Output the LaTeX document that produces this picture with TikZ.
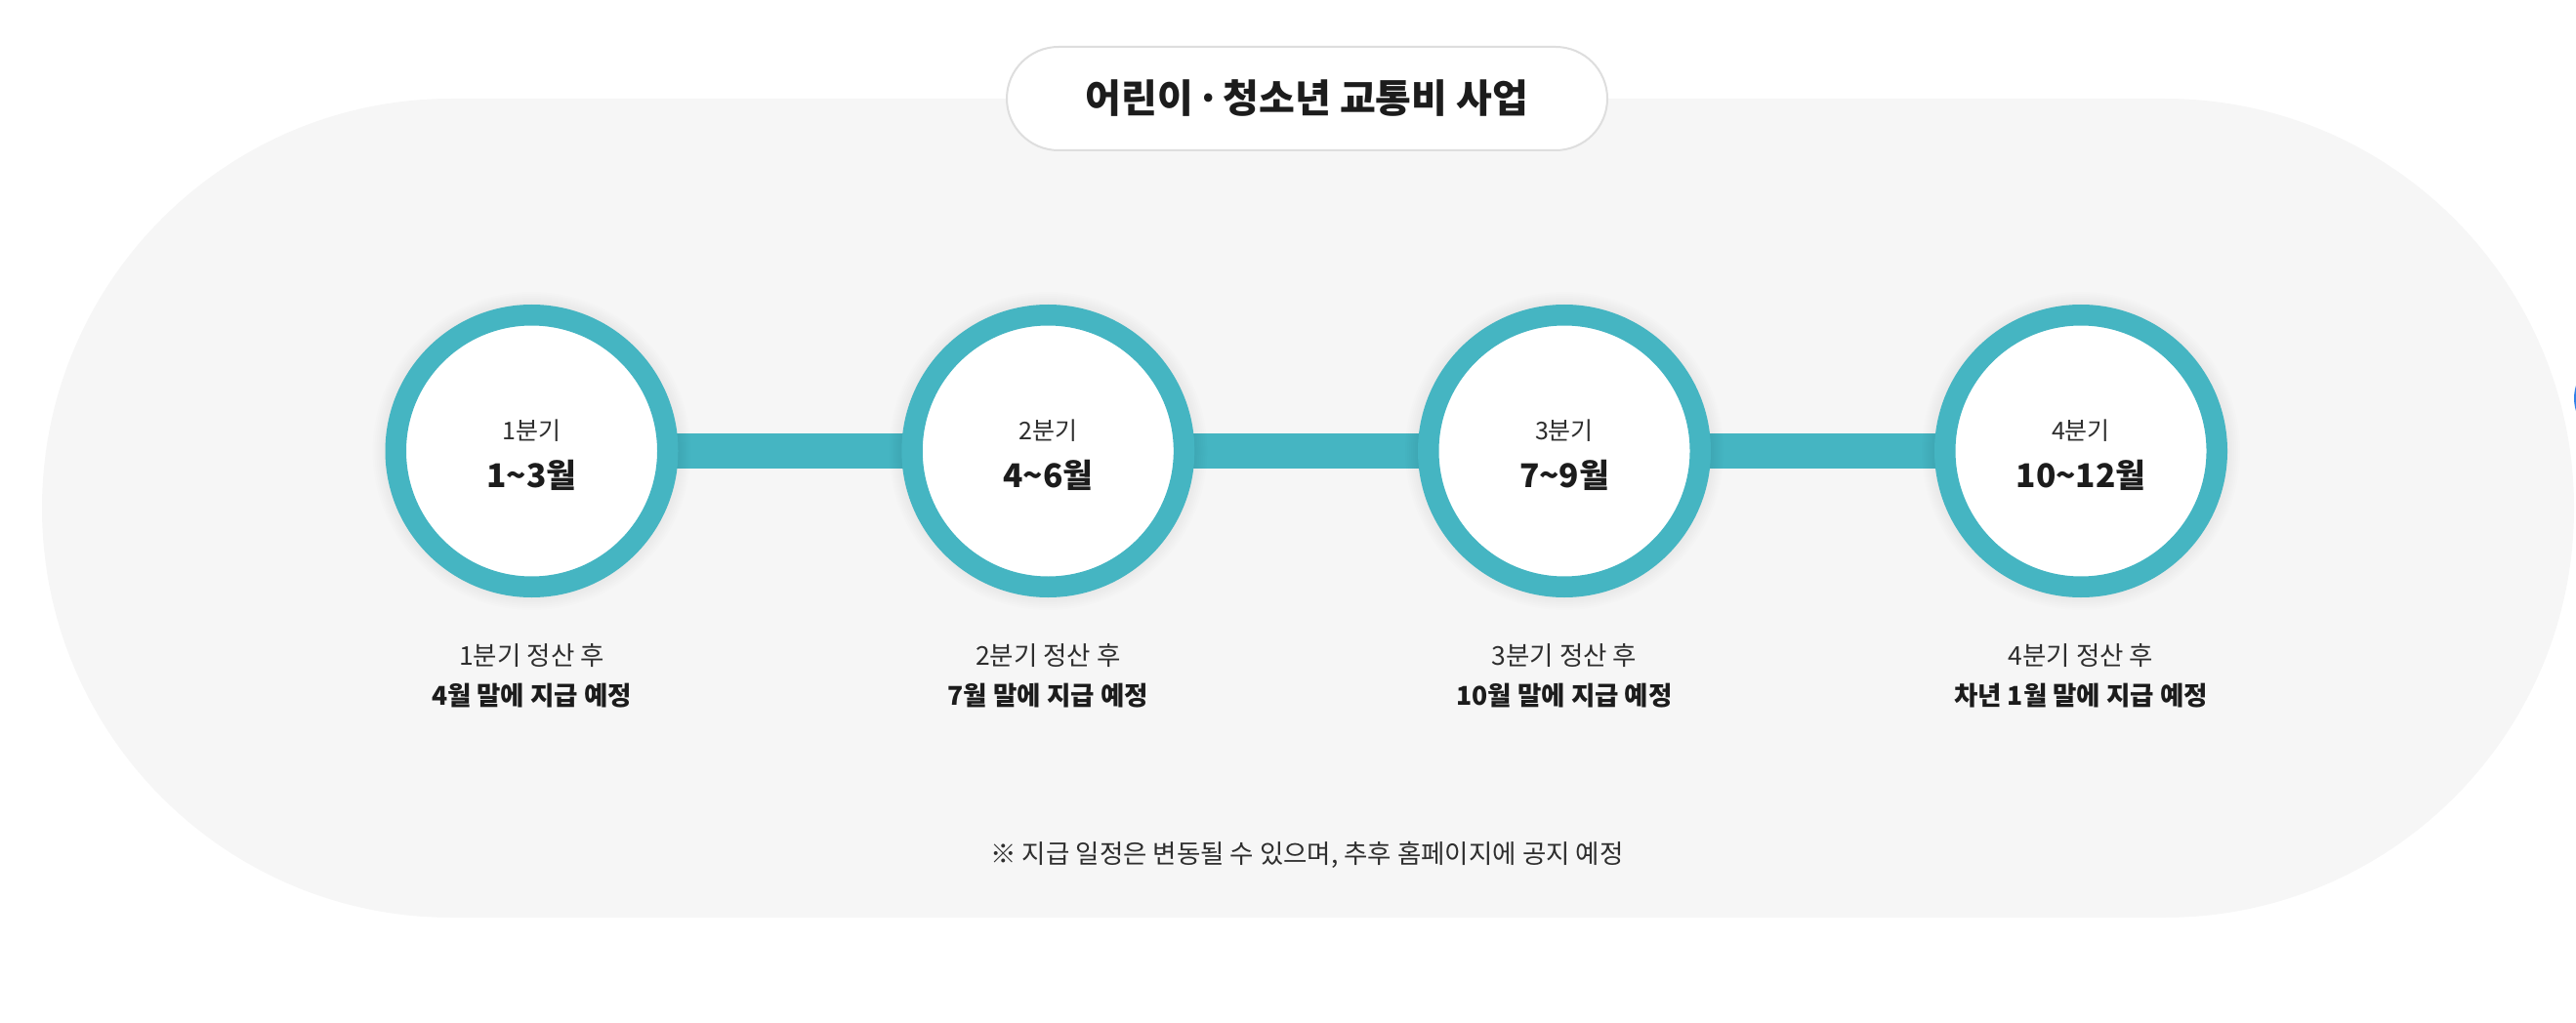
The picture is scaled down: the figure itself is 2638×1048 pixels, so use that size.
\documentclass[tikz,border=0pt]{standalone}
\usepackage{fontspec}
\setmainfont{Noto Sans CJK KR}
\usetikzlibrary{backgrounds}

\definecolor{ringteal}{HTML}{45B5C2}
\definecolor{pillgray}{HTML}{F6F6F6}
\definecolor{edgegray}{HTML}{DEDEDE}
\definecolor{inkdark}{HTML}{1C1C1C}
\definecolor{inkmid}{HTML}{2E2E2E}
\definecolor{dotblue}{HTML}{2F80E8}

\begin{document}
\begin{tikzpicture}[x=1pt, y=-1pt,
  pill/.style={fill=pillgray, draw=none, rounded corners=419.5pt},
  titlebox/.style={draw=edgegray, line width=2pt, fill=white, rounded corners=53pt,
    minimum width=615pt, minimum height=106pt, inner sep=0pt,
    font=\fontsize{40}{46}\selectfont\bfseries, text=inkdark},
  quarter/.style={circle, draw=ringteal, line width=21.5pt, fill=white,
    minimum size=278.5pt, inner sep=0pt},
  bar/.style={ringteal, line width=36pt, shorten <=-8pt, shorten >=-8pt},
  glow/.style={black, opacity=0.009},
  qname/.style={inner sep=0pt, font=\fontsize{25}{30}\selectfont, text=inkmid},
  qmonth/.style={inner sep=0pt, font=\fontsize{33.5}{38}\selectfont\bfseries, text=inkdark},
  paytxt/.style={inner sep=0pt, font=\fontsize{26.5}{30}\selectfont, text=inkmid},
  paybold/.style={inner sep=0pt, font=\fontsize{26.5}{30}\selectfont\bfseries, text=inkdark},
  note/.style={inner sep=0pt, font=\fontsize{26.5}{30}\selectfont, text=inkmid}]

  \useasboundingbox (0,0) rectangle (2638,1048);

  % quarters: circle, quarter name, months, payment note
  \foreach \i/\x/\mon/\pay in {1/544.5/1\textasciitilde3월/4월,
                               2/1073.3/4\textasciitilde6월/7월,
                               3/1602/7\textasciitilde9월/10월,
                               4/2131/10\textasciitilde12월/차년 1월}{
    \node[quarter] (q\i) at (\x,462) {};
    \node[qname] (q\i n) at (\x,441) {{\i}분기};
    \node[qmonth] (q\i m) at (\x,487) {\mon};
    \node[paytxt] (p\i a) at (\x,672) {{\i}분기 정산 후};
    \node[paybold] (p\i b) at (\x,713) {{\pay} 말에 지급 예정};
  }

  % title on top of the pill
  \node[titlebox] (title) at (1338.5,101) {어린이 \makebox[0.3em]{·} 청소년 교통비 사업};

  % footnote
  \node[note] (foot) at (1338.5,876) {※ 지급 일정은 변동될 수 있으며, 추후 홈페이지에 공지 예정};

  % pill, connecting bars and soft shadows behind the circles
  \begin{scope}[on background layer]
    \fill[pill] (43,101) rectangle (2636,940);
    \foreach \a/\b in {1/2,2/3,3/4}
      \draw[bar] (q\a.east) -- (q\b.west);
    \foreach \i in {1,...,4}
      \foreach \r in {151,153,...,163}
        \fill[glow] (q\i.center) circle[radius=\r pt];
  \end{scope}

  % cut-off blue dot at the right edge
  \begin{scope}
    \clip (0,0) rectangle (2638,1048);
    \fill[dotblue] (2681,408) circle[radius=45pt];
  \end{scope}
\end{tikzpicture}
\end{document}
